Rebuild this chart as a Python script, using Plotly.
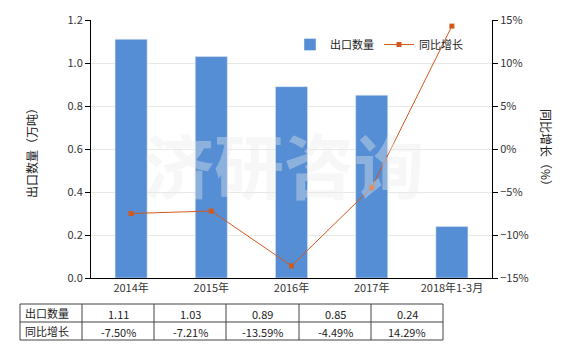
import plotly.graph_objects as go

categories = ["2014年", "2015年", "2016年", "2017年", "2018年1-3月"]
export_qty = [1.11, 1.03, 0.89, 0.85, 0.24]
yoy_growth = [-7.50, -7.21, -13.59, -4.49, 14.29]
qty_labels = ["1.11", "1.03", "0.89", "0.85", "0.24"]
yoy_labels = ["-7.50%", "-7.21%", "-13.59%", "-4.49%", "14.29%"]
row_names = ["出口数量", "同比增长"]

W, H = 580, 350
L, R, T, B = 91, 492, 20, 278
FONT = "Noto Sans CJK SC, Liberation Sans, sans-serif"
BAR = "#558ed5"
LINE = "#d2581b"


def px(x):
    return (x - L) / (R - L)


def py(y):
    return (B - y) / (B - T)


fig = go.Figure()
fig.add_trace(go.Bar(x=categories, y=export_qty, name="出口数量", marker_color=BAR,
                     width=0.4, yaxis="y"))
fig.add_trace(go.Scatter(x=categories, y=yoy_growth, name="同比增长", yaxis="y2",
                         mode="lines+markers", line=dict(color=LINE, width=1),
                         marker=dict(symbol="square", size=5, color=LINE)))

shapes = []
annotations = []

# table geometry (pixels)
tx = [20, 82, 154, 226, 299, 371, 443]
ty = [304, 322, 340]
for yv in ty:
    shapes.append(dict(type="line", xref="paper", yref="paper", x0=px(tx[0]), x1=px(tx[-1]),
                       y0=py(yv), y1=py(yv), line=dict(color="#444", width=1)))
for xv in tx:
    shapes.append(dict(type="line", xref="paper", yref="paper", x0=px(xv), x1=px(xv),
                       y0=py(ty[0]), y1=py(ty[-1]), line=dict(color="#444", width=1)))
rows = [qty_labels, yoy_labels]
for r, (name, vals) in enumerate(zip(row_names, rows)):
    yc = (ty[r] + ty[r + 1]) / 2
    annotations.append(dict(xref="paper", yref="paper", x=px(tx[0] + 3), y=py(yc), text=name,
                            showarrow=False, xanchor="left", yanchor="middle",
                            font=dict(family=FONT, size=11, color="#222")))
    for c, v in enumerate(vals):
        xc = (tx[c + 1] + tx[c + 2]) / 2
        annotations.append(dict(xref="paper", yref="paper", x=px(xc), y=py(yc + 1), text=v,
                                showarrow=False, xanchor="center", yanchor="middle",
                                font=dict(family=FONT, size=11, color="#222")))

# axis titles
annotations.append(dict(xref="paper", yref="paper", x=px(31), y=py(150), text="出口数量（万吨）",
                        textangle=-90, showarrow=False, xanchor="center", yanchor="middle",
                        font=dict(family=FONT, size=12, color="#222")))
annotations.append(dict(xref="paper", yref="paper", x=px(547), y=py(150), text="同比增长（%）",
                        textangle=90, showarrow=False, xanchor="center", yanchor="middle",
                        font=dict(family=FONT, size=12, color="#222")))
# watermark
annotations.append(dict(xref="paper", yref="paper", x=px(284), y=py(163),
                        text="<b>济研咨询</b>",
                        showarrow=False, xanchor="center", yanchor="middle",
                        font=dict(family=FONT, size=70, color="rgba(235,235,235,0.38)")))

fig.update_layout(
    width=W, height=H,
    margin=dict(l=L, r=W - R, t=T, b=H - B),
    paper_bgcolor="white", plot_bgcolor="white",
    font=dict(family=FONT, size=11, color="#333"),
    bargap=0.6,
    showlegend=True,
    legend=dict(orientation="h", x=px(290), y=py(30), xanchor="left", yanchor="top",
                bgcolor="rgba(0,0,0,0)", font=dict(size=11, color="#222"),
                itemwidth=30, traceorder="normal"),
    xaxis=dict(type="category", showline=True, linecolor="#000", linewidth=1,
               ticks="", tickfont=dict(size=11, color="#333"), showgrid=False),
    yaxis=dict(range=[0, 1.2], dtick=0.2, tickformat=".1f", showline=True,
               linecolor="#000", linewidth=1, ticks="outside", ticklen=5, tickcolor="#000",
               gridcolor="#e8e8e4", gridwidth=1, zeroline=False,
               tickfont=dict(size=11, color="#333")),
    yaxis2=dict(range=[-15, 15], dtick=5, ticksuffix="%", overlaying="y", side="right",
                showline=True, linecolor="#000", linewidth=1, ticks="outside", ticklen=5,
                tickcolor="#000", showgrid=False, zeroline=False,
                tickfont=dict(size=11, color="#333")),
    shapes=shapes,
    annotations=annotations,
)

fig.write_html("out.html")
